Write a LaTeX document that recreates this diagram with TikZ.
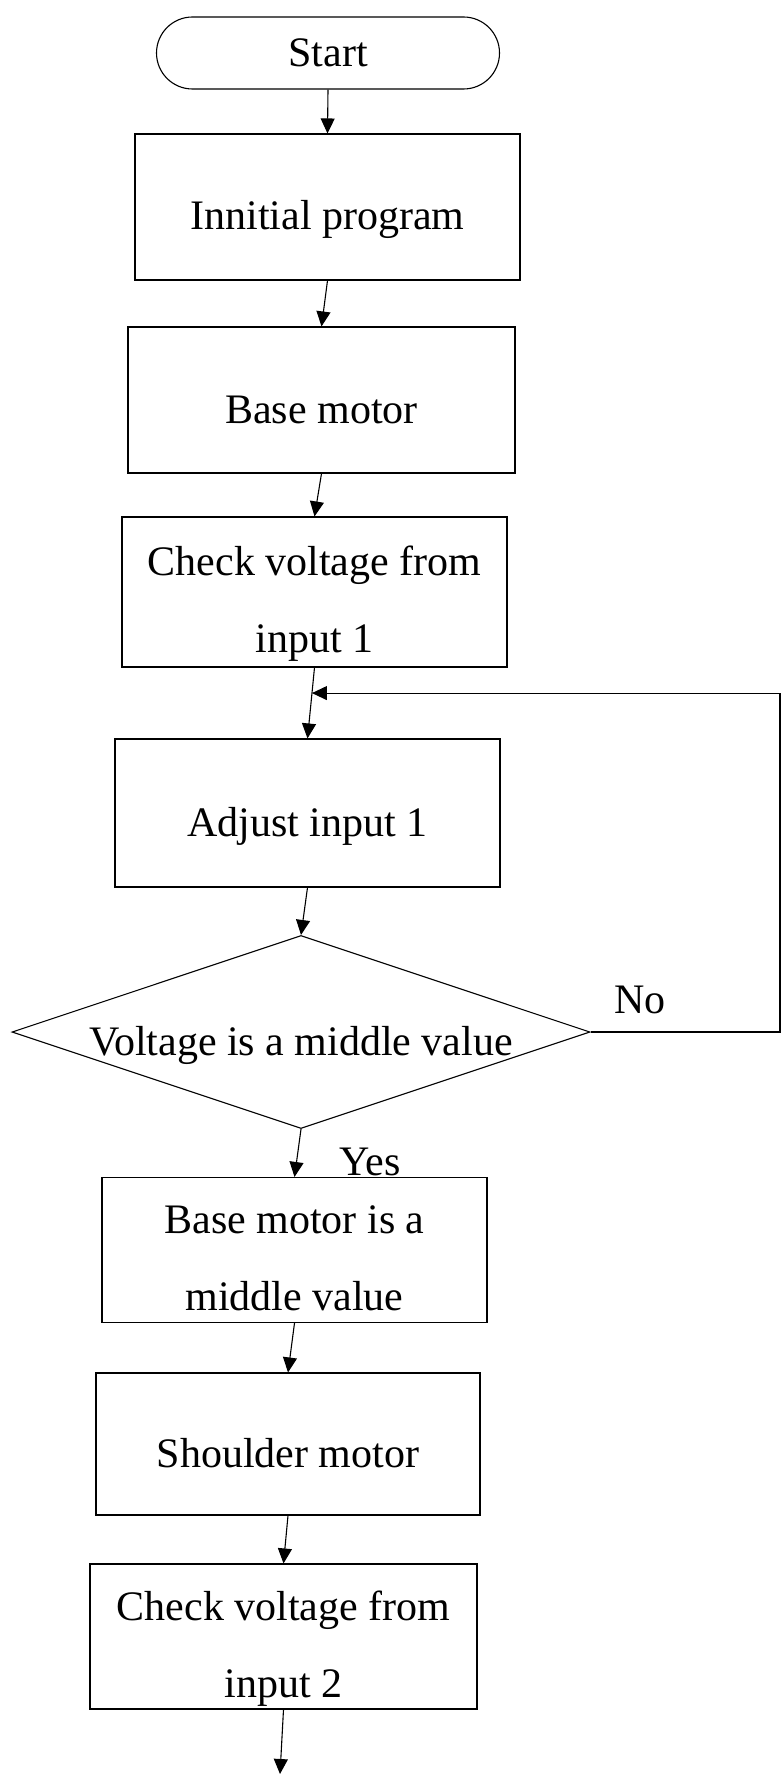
\documentclass[tikz,border=0pt]{standalone}
\usepackage{fontspec}
\setmainfont{Liberation Serif}
\usetikzlibrary{shapes.geometric,arrows.meta,calc}
\begin{document}
\begin{tikzpicture}[x=1pt,y=1pt,
  box/.style={draw,line width=1.1pt,rectangle,inner sep=0pt,font=\fontsize{42}{50}\selectfont,align=center,text height=46pt,text depth=0pt},
  twoline/.style={font=\fontsize{42}{77}\selectfont,text height=121pt,text depth=0pt},
  arr/.style={draw,line width=1.1pt,-{Triangle[width=14pt,length=15pt]}},
  lbl/.style={font=\fontsize{42}{50}\selectfont,inner sep=0pt}]
\useasboundingbox (0,0) rectangle (782,-1776);
\node[draw,line width=1.1pt,inner sep=0pt,font=\fontsize{42}{50}\selectfont,rounded corners=36pt,minimum width=343pt,minimum height=72pt] (start) at (328,-53) {Start};
\node[box,minimum width=385pt,minimum height=146pt] (init) at (327.5,-207) {Innitial program};
\node[box,minimum width=387pt,minimum height=146pt] (base) at (321.5,-400) {Base motor};
\node[box,twoline,minimum width=385pt,minimum height=150pt] (check1) at (314.5,-592) {Check voltage from\\input 1};
\node[box,minimum width=385pt,minimum height=148pt] (adjust) at (307.5,-813) {Adjust input 1};
\node[draw,line width=1.1pt,diamond,aspect=3,inner sep=0pt,minimum width=578pt,minimum height=193pt,font=\fontsize{42}{50}\selectfont,text height=46pt,text depth=0pt] (dec) at (301,-1032) {Voltage is a middle value};
\node[box,twoline,minimum width=385pt,minimum height=145pt] (bmm) at (294.5,-1250) {Base motor is a\\middle value};
\node[box,minimum width=384pt,minimum height=142pt] (shoulder) at (288,-1444) {Shoulder motor};
\node[box,twoline,minimum width=387pt,minimum height=145pt] (check2) at (283.5,-1636.5) {Check voltage from\\input 2};
\node[lbl] (no) at (640,-1000) {No};
\node[lbl] (yes) at (370,-1162) {Yes};
\coordinate (fb) at ($(check1.south)!0.36!(adjust.north)$);
\coordinate (rx) at (780,0);
\coordinate (endpt) at (280,-1774);
\draw[arr] (start.south) -- (init.north);
\draw[arr] (init.south) -- (base.north);
\draw[arr] (base.south) -- (check1.north);
\draw[arr] (check1.south) -- (adjust.north);
\draw[arr] (adjust.south) -- (dec.north);
\draw[arr] (dec.east) -- (dec.east -| rx) -- (fb -| rx) -- (fb);
\draw[arr] (dec.south) -- (bmm.north);
\draw[arr] (bmm.south) -- (shoulder.north);
\draw[arr] (shoulder.south) -- (check2.north);
\draw[arr] (check2.south) -- (endpt);
\end{tikzpicture}
\end{document}
